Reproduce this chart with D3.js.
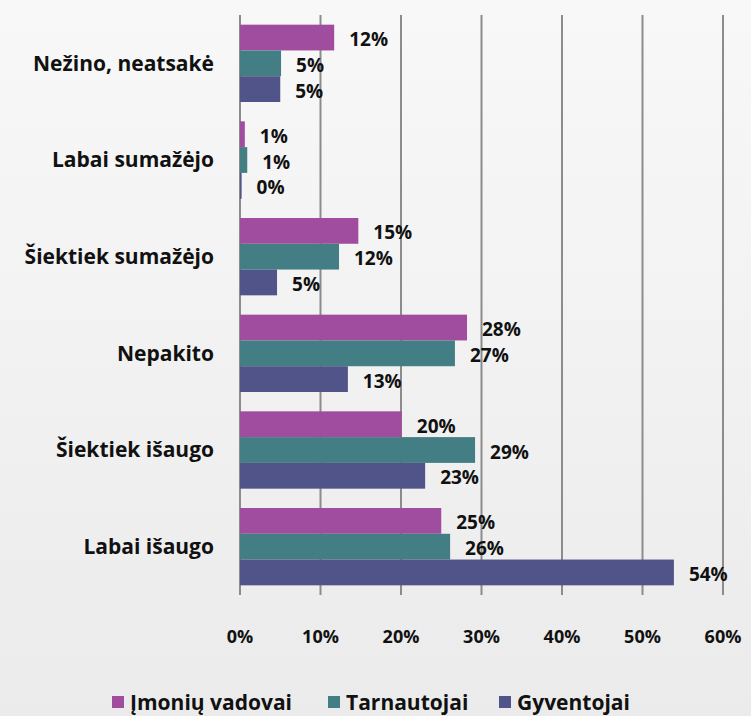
<!DOCTYPE html>
<html>
<head>
<meta charset="utf-8">
<script src="https://cdn.jsdelivr.net/npm/d3@7"></script>
<style>
  html, body { margin: 0; padding: 0; }
  body { width: 751px; height: 716px; overflow: hidden; }
  svg { display: block; font-family: "Open Sans", Lato, sans-serif; }
</style>
</head>
<body>
<div id="chart"></div>
<script>
// categories, top to bottom
const categories = [
  "Nežino, neatsakė",
  "Labai sumažėjo",
  "Šiektiek sumažėjo",
  "Nepakito",
  "Šiektiek išaugo",
  "Labai išaugo",
];
const seriesNames = ["Įmonių vadovai", "Tarnautojai", "Gyventojai"];
const seriesColors = ["#a04da0", "#437e84", "#515488"];

// values in %, one array per series (same order as categories)
const imoniuVadovai = [11.7, 0.6, 14.7, 28.2, 20.1, 25.0];
const tarnautojai = [5.1, 0.9, 12.3, 26.7, 29.2, 26.1];
const gyventojai = [5.0, 0.2, 4.6, 13.4, 23.0, 53.9];

const tickValues = [0, 10, 20, 30, 40, 50, 60];

const seriesValues = [imoniuVadovai, tarnautojai, gyventojai];

const width = 751, height = 716;
const margin = { top: 15, right: 28, bottom: 121, left: 240 };

const svg = d3.select("#chart").append("svg")
  .attr("width", width)
  .attr("height", height);

// background gradient
const defs = svg.append("defs");
const grad = defs.append("linearGradient")
  .attr("id", "bg").attr("x1", 0).attr("y1", 0).attr("x2", 0).attr("y2", 1);
grad.append("stop").attr("offset", "0%").attr("stop-color", "#f8f8f8");
grad.append("stop").attr("offset", "100%").attr("stop-color", "#ebebeb");
svg.append("rect").attr("width", width).attr("height", height).attr("fill", "url(#bg)");

const x = d3.scaleLinear()
  .domain([0, 60])
  .range([margin.left, width - margin.right]);

const y = d3.scaleBand()
  .domain(categories)
  .range([margin.top, height - margin.bottom])
  .paddingInner(0.2)
  .paddingOuter(0.1);

const ySub = d3.scaleBand()
  .domain(seriesNames)
  .range([0, y.bandwidth()]);

// vertical grid lines
svg.append("g")
  .selectAll("line")
  .data(tickValues)
  .join("line")
  .attr("x1", d => x(d))
  .attr("x2", d => x(d))
  .attr("y1", margin.top)
  .attr("y2", height - margin.bottom)
  .attr("stroke", "#8c8c8c")
  .attr("stroke-width", 2);

// x tick labels
svg.append("g")
  .selectAll("text")
  .data(tickValues)
  .join("text")
  .attr("x", d => x(d))
  .attr("y", 643)
  .attr("text-anchor", "middle")
  .attr("font-size", 18)
  .attr("font-weight", "bold")
  .attr("fill", "#111")
  .text(d => d + "%");

// category labels
svg.append("g")
  .selectAll("text")
  .data(categories)
  .join("text")
  .attr("x", 214)
  .attr("y", d => y(d) + y.bandwidth() / 2)
  .attr("dy", "0.35em")
  .attr("text-anchor", "end")
  .attr("font-size", 21)
  .attr("font-weight", "bold")
  .attr("fill", "#111")
  .text(d => d);

// bars + value labels
seriesNames.forEach((name, si) => {
  const g = svg.append("g");
  const rows = categories.map((c, i) => ({ c, v: seriesValues[si][i] }));

  g.selectAll("rect")
    .data(rows)
    .join("rect")
    .attr("x", x(0))
    .attr("y", d => y(d.c) + ySub(name))
    .attr("width", d => x(d.v) - x(0))
    .attr("height", ySub.bandwidth())
    .attr("fill", seriesColors[si]);

  g.selectAll("text")
    .data(rows)
    .join("text")
    .attr("x", d => x(d.v) + 15)
    .attr("y", d => y(d.c) + ySub(name) + ySub.bandwidth() / 2)
    .attr("dy", "0.45em")
    .attr("font-size", 19)
    .attr("font-weight", "bold")
    .attr("fill", "#111")
    .text(d => Math.round(d.v) + "%");
});

// legend
const legendX = [112, 328, 499];
const legend = svg.append("g")
  .selectAll("g")
  .data(seriesNames)
  .join("g")
  .attr("transform", (d, i) => `translate(${legendX[i]},703)`);

legend.append("rect")
  .attr("x", 0)
  .attr("y", -7)
  .attr("width", 12)
  .attr("height", 12)
  .attr("fill", (d, i) => seriesColors[i]);

legend.append("text")
  .attr("x", 18)
  .attr("y", 0)
  .attr("dy", "0.35em")
  .attr("font-size", 21)
  .attr("font-weight", "bold")
  .attr("fill", "#111")
  .text(d => d);
</script>
</body>
</html>
